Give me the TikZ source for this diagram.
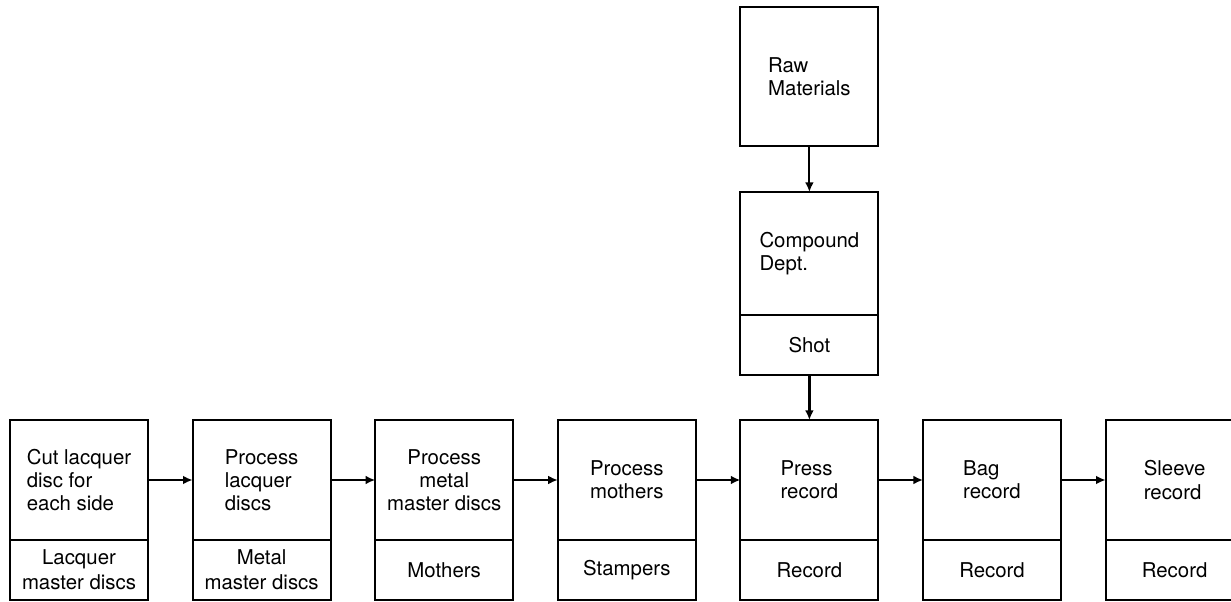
\documentclass[tikz,border=0pt]{standalone}
\usepackage{fontspec}
\setmainfont{TeX Gyre Heros}
\usepackage{tikz}
\usetikzlibrary{positioning,arrows.meta}

\begin{document}
\begin{tikzpicture}[
            stage/.style={draw, line width=1.5pt, outer sep=0pt, minimum width=3.45cm, minimum height=3cm, inner sep=2pt, align=left, font=\fontsize{14.5}{16.5}\selectfont},
            product/.style={draw, line width=1.5pt, outer sep=0pt, minimum width=3.45cm, minimum height=1.5cm, inner sep=2pt, align=center, font=\fontsize{14.5}{17.5}\selectfont},
            flow/.style={line width=1.4pt, -{Latex[length=2.4mm,width=2.2mm]}},
            node distance=1.115cm
        ]
            \useasboundingbox (0,0) rectangle (30.775,-15.05);
            % main line
            \node[stage] (cut) at (1.975,-12) {Cut lacquer\\disc for\\each side};
            \node[product, below=0pt of cut] (lacquerdiscs) {Lacquer\\master discs};
            \node[stage, right=of cut] (proclacquer) {Process\\lacquer\\discs};
            \node[product, below=0pt of proclacquer] (metaldiscs) {Metal\\master discs};
            \node[stage, right=of proclacquer, align=center] (procmetal) {Process\\metal\\master discs};
            \node[product, below=0pt of procmetal] (mothers) {Mothers};
            \node[stage, right=of procmetal] (procmothers) {Process\\mothers};
            \node[product, below=0pt of procmothers] (stampers) {Stampers};
            \node[stage, right=of procmothers] (press) {Press\\record};
            \node[product, below=0pt of press] (record1) {Record};
            \node[stage, right=of press] (bag) {Bag\\record};
            \node[product, below=0pt of bag] (record2) {Record};
            \node[stage, right=of bag] (sleeve) {Sleeve\\record};
            \node[product, below=0pt of sleeve] (record3) {Record};
            % compound branch
            \node[product, above=1.125cm of press] (shot) {Shot};
            \node[stage, above=0pt of shot, minimum height=3.075cm] (compound) {Compound\\Dept.};
            \node[stage, above=1.15cm of compound, minimum height=3.475cm] (raw) {Raw\\Materials};

            \draw[flow] (cut) -- (proclacquer);
            \draw[flow] (proclacquer) -- (procmetal);
            \draw[flow] (procmetal) -- (procmothers);
            \draw[flow] (procmothers) -- (press);
            \draw[flow] (press) -- (bag);
            \draw[flow] (bag) -- (sleeve);
            \draw[flow] (raw) -- (compound);
            \draw[flow, line width=2.2pt] (shot) -- (press);
        \end{tikzpicture}
\end{document}
